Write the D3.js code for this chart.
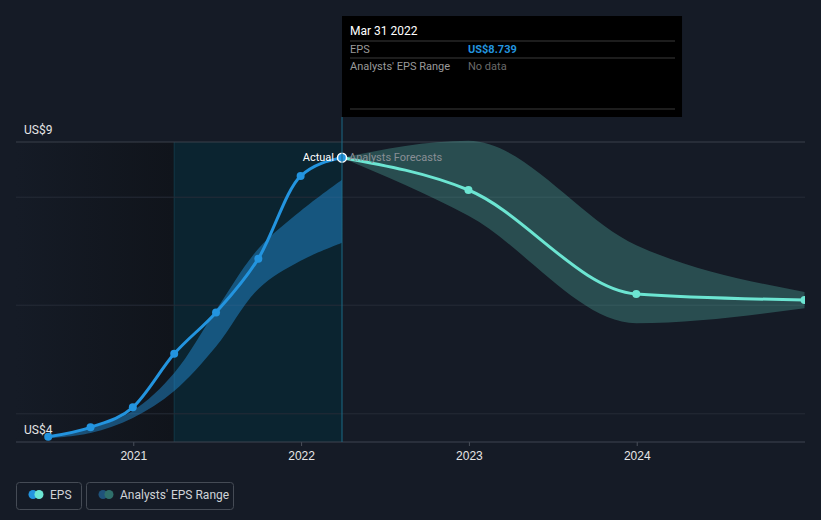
<!DOCTYPE html>
<html>
<head>
<meta charset="utf-8">
<script src="https://cdn.jsdelivr.net/npm/d3@7"></script>
<style>
  body { margin: 0; background: #151b26; }
  svg { display: block; font-family: Roboto, "Noto Sans", sans-serif; }
</style>
</head>
<body>
<svg id="chart" width="821" height="520"></svg>
<script>
// past EPS (quarterly, trailing)
const pastDates = ['2020-06-30', '2020-09-30', '2020-12-31', '2021-03-31', '2021-06-30', '2021-09-30', '2021-12-31', '2022-03-31'];
const pastEps = [4.088, 4.245, 4.578, 5.47, 6.16, 7.055, 8.433, 8.739];
const pastRangeHigh = [4.10, 4.23, 4.52, 5.15, 6.2, 7.22, 7.85, 8.37];
const pastRangeLow = [4.06, 4.15, 4.40, 4.85, 5.59, 6.55, 7.02, 7.32];

// analysts forecasts
const fcDates = ['2022-03-31', '2022-12-31', '2023-12-31', '2024-12-31'];
const fcEps = [8.739, 8.2, 6.467, 6.367];
const fcHigh = [8.739, 9.02, 7.28, 6.5];
const fcLow = [8.739, 7.77, 5.98, 6.23];

const yTickLabels = [{ v: 9, t: 'US$9' }, { v: 4, t: 'US$4' }];
const gridValues = [8.08, 6.28, 4.47];
const xTicks = ['2021-01-01', '2022-01-01', '2023-01-01', '2024-01-01'];

const parse = d3.timeParse('%Y-%m-%d');
const svg = d3.select('#chart');

const m = { left: 16, right: 805, top: 142, bottom: 442 };

const x = d3.scaleTime()
  .domain([parse('2020-01-01'), parse('2025-01-01')])
  .range([133 - 168, 133 + 168 * 4]);
const y = d3.scaleLinear().domain([4, 9]).range([m.bottom, m.top]);

const nowDate = parse('2022-03-31');
const yearAgo = parse('2021-03-31');

const defs = svg.append('defs');
const grad = defs.append('linearGradient').attr('id', 'leftShade');
grad.append('stop').attr('offset', '0%').attr('stop-color', '#151b26');
grad.append('stop').attr('offset', '100%').attr('stop-color', '#10141b');
defs.append('clipPath').attr('id', 'plotClip')
  .append('rect').attr('x', m.left).attr('y', 0).attr('width', m.right - m.left).attr('height', m.bottom);

// background zones
svg.append('rect')
  .attr('x', m.left).attr('y', m.top)
  .attr('width', x(yearAgo) - m.left).attr('height', m.bottom - m.top)
  .attr('fill', 'url(#leftShade)');
svg.append('rect')
  .attr('x', x(yearAgo)).attr('y', m.top)
  .attr('width', x(nowDate) - x(yearAgo)).attr('height', m.bottom - m.top)
  .attr('fill', '#0b2430');
svg.append('line')
  .attr('x1', x(yearAgo)).attr('x2', x(yearAgo))
  .attr('y1', m.top).attr('y2', m.bottom)
  .attr('stroke', '#123746').attr('stroke-width', 1);

// gridlines
svg.append('g').selectAll('line')
  .data([9].concat(gridValues))
  .join('line')
  .attr('x1', m.left).attr('x2', m.right)
  .attr('y1', d => y(d)).attr('y2', d => y(d))
  .attr('stroke', (d, i) => i === 0 ? '#3a404a' : '#262c37')
  .attr('stroke-width', 1);

// x axis
const xAxis = d3.axisBottom(x)
  .tickValues(xTicks.map(parse))
  .tickFormat(d3.timeFormat('%Y'))
  .tickSize(4)
  .tickPadding(5);
const gx = svg.append('g')
  .attr('transform', `translate(0,${m.bottom})`)
  .call(xAxis);
gx.select('.domain').remove();
gx.selectAll('.tick line').attr('stroke', '#4a505a');
gx.selectAll('.tick text').attr('fill', '#e6e6e6').attr('font-size', 12);
svg.append('line')
  .attr('x1', m.left).attr('x2', m.right)
  .attr('y1', m.bottom).attr('y2', m.bottom)
  .attr('stroke', '#3f4550');

// y labels
svg.append('g').selectAll('text')
  .data(yTickLabels)
  .join('text')
  .attr('x', 24).attr('y', d => y(d.v) - 8)
  .attr('fill', '#e6e6e6').attr('font-size', 12)
  .text(d => d.t);

const plot = svg.append('g').attr('clip-path', 'url(#plotClip)');

const past = pastDates.map((d, i) => ({ date: parse(d), eps: pastEps[i], hi: pastRangeHigh[i], lo: pastRangeLow[i] }));
const fc = fcDates.map((d, i) => ({ date: parse(d), eps: fcEps[i], hi: fcHigh[i], lo: fcLow[i] }));

const area = d3.area()
  .x(d => x(d.date))
  .y0(d => y(d.lo))
  .y1(d => y(d.hi))
  .curve(d3.curveMonotoneX);
const pastArea = d3.area()
  .x(d => x(d.date))
  .y0(d => y(d.lo))
  .y1(d => y(d.hi))
  .curve(d3.curveCatmullRom);
const line = d3.line()
  .x(d => x(d.date))
  .y(d => y(d.eps))
  .curve(d3.curveMonotoneX);

plot.append('path').datum(past)
  .attr('d', pastArea)
  .attr('fill', '#2394df').attr('fill-opacity', 0.45);
plot.append('path').datum(fc)
  .attr('d', area)
  .attr('fill', '#5fd0bf').attr('fill-opacity', 0.28);

// now line
svg.append('line')
  .attr('x1', x(nowDate)).attr('x2', x(nowDate))
  .attr('y1', 117).attr('y2', m.bottom)
  .attr('stroke', '#1b6a86').attr('stroke-width', 1);

plot.append('path').datum(fc)
  .attr('d', line)
  .attr('fill', 'none').attr('stroke', '#6ce5d2').attr('stroke-width', 3);
plot.append('path').datum(past)
  .attr('d', line)
  .attr('fill', 'none').attr('stroke', '#2394df').attr('stroke-width', 3);

plot.selectAll('circle.fc')
  .data(fc.slice(1))
  .join('circle')
  .attr('class', 'fc')
  .attr('cx', d => x(d.date)).attr('cy', d => y(d.eps))
  .attr('r', 4).attr('fill', '#6ce5d2');
plot.selectAll('circle.past')
  .data(past.slice(0, -1))
  .join('circle')
  .attr('class', 'past')
  .attr('cx', d => x(d.date)).attr('cy', d => y(d.eps))
  .attr('r', 4).attr('fill', '#2394df');
const last = past[past.length - 1];
plot.append('circle')
  .attr('cx', x(last.date)).attr('cy', y(last.eps))
  .attr('r', 4.5).attr('fill', '#2394df')
  .attr('stroke', '#ffffff').attr('stroke-width', 1.5);

svg.append('text')
  .attr('x', x(nowDate) - 8).attr('y', y(last.eps) + 3)
  .attr('text-anchor', 'end')
  .attr('fill', '#ffffff').attr('font-size', 11)
  .text('Actual');
svg.append('text')
  .attr('x', x(nowDate) + 7).attr('y', y(last.eps) + 3)
  .attr('fill', '#8a8f96').attr('font-size', 11)
  .text('Analysts Forecasts');

// tooltip
const tip = svg.append('g').attr('transform', `translate(${x(nowDate)},16)`);
tip.append('rect').attr('width', 340).attr('height', 101).attr('fill', '#000000');
tip.selectAll('line')
  .data([25, 42, 93])
  .join('line')
  .attr('x1', 8).attr('x2', 333)
  .attr('y1', d => d).attr('y2', d => d)
  .attr('stroke', '#3a3a3a');
tip.append('text').attr('x', 8).attr('y', 19)
  .attr('fill', '#ffffff').attr('font-size', 12).text('Mar 31 2022');
tip.append('text').attr('x', 8).attr('y', 37)
  .attr('fill', '#9a9a9a').attr('font-size', 11).text('EPS');
tip.append('text').attr('x', 126).attr('y', 37)
  .attr('fill', '#2394df').attr('font-size', 11).attr('font-weight', 'bold')
  .text('US$' + d3.format('.3f')(last.eps));
tip.append('text').attr('x', 8).attr('y', 54)
  .attr('fill', '#9a9a9a').attr('font-size', 11).text("Analysts' EPS Range");
tip.append('text').attr('x', 126).attr('y', 54)
  .attr('fill', '#6a6a6a').attr('font-size', 11).text('No data');

// legend
const legendItems = [
  { label: 'EPS', c1: '#2394df', c2: '#6ce5d2', x: 16, w: 65 },
  { label: "Analysts' EPS Range", c1: '#1f527a', c2: '#2f6f6a', x: 86, w: 147 }
];
const lg = svg.append('g').selectAll('g')
  .data(legendItems)
  .join('g')
  .attr('transform', d => `translate(${d.x},482)`);
lg.append('rect')
  .attr('x', 0.5).attr('y', 0.5)
  .attr('width', d => d.w).attr('height', 27).attr('rx', 3)
  .attr('fill', 'none').attr('stroke', '#454b55');
lg.append('circle').attr('cx', 17).attr('cy', 12.5).attr('r', 4.5).attr('fill', d => d.c1);
lg.append('circle').attr('cx', 23).attr('cy', 12.5).attr('r', 4.5).attr('fill', d => d.c2);
lg.append('text').attr('x', 34).attr('y', 17)
  .attr('fill', '#d0d3d8').attr('font-size', 12)
  .text(d => d.label);
</script>
</body>
</html>
